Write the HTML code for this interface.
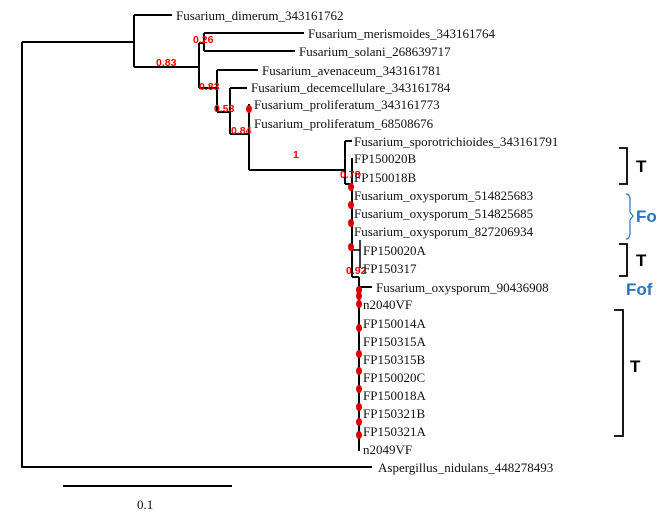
<!DOCTYPE html>
<html><head><meta charset="utf-8"><style>
body{margin:0;background:#fff}
svg{display:block}
.l{font-family:"Liberation Serif",serif;font-size:13px;fill:#111}
.b{font-family:"Liberation Sans",sans-serif;font-size:10.5px;font-weight:bold;fill:#f00}
.br{font-family:"Liberation Sans",sans-serif;font-size:17px;font-weight:bold}
</style></head><body>
<svg width="671" height="514">
<g stroke="#000" stroke-width="2" fill="none">
<path d="M22 42V467H372"/>
<path d="M22 42H134M134 15V67M134 15H172M134 67H199"/>
<path d="M199 43V88M199 43H204M204 33V51M204 33H304M204 51H295"/>
<path d="M199 88H217M217 70V112M217 70H258M217 112H230"/>
<path d="M230 88V134M230 88H247M230 134H249M249 104V170M249 170H345"/>
<path d="M345 141V184M345 141H352M345 184H352M352 158V277M352 277H359"/>
<path d="M352 250H360M360 240V268" stroke-width="1.5"/>
<path d="M359 277V451M359 287H372"/>
<path d="M63 486H232"/>
</g>
<g fill="#d00">
<ellipse cx="351" cy="187" rx="3" ry="4"/><ellipse cx="351" cy="205" rx="3" ry="4"/><ellipse cx="351" cy="223" rx="3" ry="4"/><ellipse cx="351" cy="247" rx="3" ry="4"/>
<ellipse cx="359" cy="290" rx="3" ry="4"/><ellipse cx="359" cy="296" rx="3" ry="4"/><ellipse cx="359" cy="304" rx="3" ry="4"/><ellipse cx="359" cy="328" rx="3" ry="4"/><ellipse cx="359" cy="354" rx="3" ry="4"/><ellipse cx="359" cy="371" rx="3" ry="4"/><ellipse cx="359" cy="389" rx="3" ry="4"/><ellipse cx="359" cy="407" rx="3" ry="4"/><ellipse cx="359" cy="422" rx="3" ry="4"/><ellipse cx="359" cy="435" rx="3" ry="4"/>
<ellipse cx="249" cy="109" rx="3" ry="4"/>
</g>
<g class="b">
<text x="193" y="43">0.26</text><text x="156" y="66">0.83</text><text x="199" y="90">0.83</text>
<text x="214" y="112">0.53</text><text x="231" y="134">0.84</text><text x="293" y="158">1</text>
<text x="340" y="178">0.78</text><text x="346" y="274">0.92</text>
</g>
<g class="l">
<text x="176" y="20">Fusarium_dimerum_343161762</text>
<text x="308" y="38">Fusarium_merismoides_343161764</text>
<text x="299" y="56">Fusarium_solani_268639717</text>
<text x="262" y="75">Fusarium_avenaceum_343161781</text>
<text x="251" y="92">Fusarium_decemcellulare_343161784</text>
<text x="254" y="109">Fusarium_proliferatum_343161773</text>
<text x="254" y="128">Fusarium_proliferatum_68508676</text>
<text x="354" y="146">Fusarium_sporotrichioides_343161791</text>
<text x="354" y="163">FP150020B</text><text x="354" y="182">FP150018B</text>
<text x="354" y="200">Fusarium_oxysporum_514825683</text>
<text x="354" y="218">Fusarium_oxysporum_514825685</text>
<text x="354" y="236">Fusarium_oxysporum_827206934</text>
<text x="363" y="255">FP150020A</text><text x="363" y="273">FP150317</text>
<text x="376" y="292">Fusarium_oxysporum_90436908</text>
<text x="363" y="309">n2040VF</text><text x="363" y="328">FP150014A</text><text x="363" y="346">FP150315A</text>
<text x="363" y="364">FP150315B</text><text x="363" y="382">FP150020C</text><text x="363" y="400">FP150018A</text>
<text x="363" y="418">FP150321B</text><text x="363" y="436">FP150321A</text><text x="363" y="454">n2049VF</text>
<text x="378" y="472">Aspergillus_nidulans_448278493</text>
<text x="137" y="509">0.1</text>
</g>
<g fill="none" stroke-width="1.8">
<path d="M619 148H627V184H619" stroke="#000"/>
<path d="M626 194Q630 194 630 200V212L633 216L630 220V232Q630 239 626 239" stroke="#2e75b6" stroke-width="1.2"/>
<path d="M619 244H627V276H619" stroke="#000"/>
<path d="M614 310H623V436H614" stroke="#000"/>
</g>
<text class="br" x="636" y="172" fill="#000">T</text>
<text class="br" x="636" y="222" fill="#2e75b6">Fo</text>
<text class="br" x="636" y="266" fill="#000">T</text>
<text class="br" x="626" y="295" fill="#2e75b6">Fof</text>
<text class="br" x="630" y="372" fill="#000">T</text>
</svg>
</body></html>
